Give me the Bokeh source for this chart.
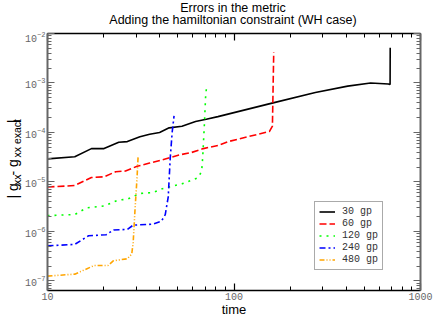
from bokeh.plotting import figure
from bokeh.layouts import row, column
from bokeh.models import (LogAxis, FixedTicker, Legend, LegendItem, Range1d,
                          CustomJSTickFormatter)
from bokeh.core.properties import value
from bokeh.embed import file_html
from bokeh.resources import INLINE

# ---------------- data ----------------
title_lines = ["Errors in the metric", "Adding the hamiltonian constraint (WH case)"]
x_label = "time"

t_30 = [10, 14.0, 17.2, 20.1, 24.1, 26.8, 31.3, 35.3, 39.9, 44.9, 52.6, 62.2, 71.0,
        82.0, 162, 273, 407, 540, 673, 687, 688]
e_30 = [2.92e-5, 3.24e-5, 4.72e-5, 4.72e-5, 6.34e-5, 6.54e-5, 8.18e-5, 9.22e-5, 1.0e-4,
        1.24e-4, 1.34e-4, 1.67e-4, 1.85e-4, 2.09e-4, 3.96e-4, 6.40e-4, 8.63e-4, 1.0e-3,
        9.57e-4, 9.27e-4, 5.16e-3]

t_60 = [10, 14.0, 17.2, 20.1, 23.2, 26.2, 30.2, 35.3, 41.3, 50.7, 59.3, 68.5, 82.0,
        92.5, 155, 160.7, 163.3]
e_60 = [7.88e-6, 8.47e-6, 1.23e-5, 1.27e-5, 1.61e-5, 1.66e-5, 2.07e-5, 2.41e-5, 2.80e-5,
        3.50e-5, 3.95e-5, 4.72e-5, 5.47e-5, 6.5e-5, 1.05e-4, 1.34e-4, 4.18e-3]

t_120 = [10, 14.0, 16.2, 20.1, 23.8, 26.8, 31.3, 36.6, 41.3, 52.6, 64.5, 67.1, 67.9,
         69.3, 70.4, 71.3]
e_120 = [2.09e-6, 2.19e-6, 2.99e-6, 3.27e-6, 4.28e-6, 4.47e-6, 5.85e-6, 6.1e-6, 7.31e-6,
         9.15e-6, 1.23e-5, 1.66e-5, 3.02e-5, 1.34e-4, 5.12e-4, 8.63e-4]

t_240 = [10, 14.0, 16.6, 20.6, 22.6, 26.8, 28.8, 36.6, 40.8, 42.8, 44.4, 45.5, 46.6, 47.7]
e_240 = [5.12e-7, 5.47e-7, 8.18e-7, 8.55e-7, 1.07e-6, 1.10e-6, 1.34e-6, 1.40e-6, 1.60e-6,
         2.19e-6, 5.0e-6, 3.0e-5, 1.0e-4, 2.16e-4]

t_480 = [10, 14.0, 17.8, 21.1, 22.6, 26.8, 28.3, 28.8, 29.5, 30.2, 30.6]
e_480 = [1.25e-7, 1.37e-7, 2.05e-7, 2.05e-7, 2.56e-7, 2.80e-7, 3.5e-7, 6.0e-7, 3.0e-6,
         1.2e-5, 3.2e-5]

labels = ["30 gp", "60 gp", "120 gp", "240 gp", "480 gp"]
colors = ["#000000", "#ff0000", "#00ff00", "#0000ff", "#ffa500"]
dashes = ["solid", "7 3", "2 5", "6 3 2 3", "5 2 1 2 1 2"]
times = [t_30, t_60, t_120, t_240, t_480]
errors = [e_30, e_60, e_120, e_240, e_480]

x_major = [10, 100, 1000]
x_minor = [m * 10 ** k for k in (1, 2) for m in range(2, 10)]
y_major = [1e-7, 1e-6, 1e-5, 1e-4, 1e-3, 1e-2]
y_minor = [m * 10.0 ** k for k in range(-8, -2) for m in range(2, 10)]

# y-axis label pieces (normal text and subscripts)
ylabel_parts = ["| g", "xx", " - g", "xx exact", " |"]
ylabel_sizes = ["14px", "10.5px", "14px", "10.5px", "14px"]

# ---------------- layout constants (pixels) ----------------
W, H = 433, 319
TOP_H = 31          # title strip
LAB_W = 22          # y-label strip
MAIN_H = H - TOP_H
FRAME_L, FRAME_R = 45, 420

def strip(width, height):
    f = figure(width=width, height=height, x_range=Range1d(0, width),
               y_range=Range1d(0, height), output_backend="svg",
               toolbar_location=None, x_axis_location=None, y_axis_location=None,
               min_border=0)
    f.outline_line_color = None
    f.grid.visible = False
    f.border_fill_color = "white"
    f.background_fill_color = "white"
    return f

# ---------------- title strip ----------------
ts = strip(W, TOP_H)
ts.text(x=[(FRAME_L + FRAME_R) / 2] * 2, y=[TOP_H - 7, TOP_H - 19], text=title_lines,
        text_align="center", text_baseline="middle",
        text_font=value("Liberation Sans"), text_font_size="12.5px",
        text_color="#000000")

# ---------------- main figure ----------------
p = figure(width=W - LAB_W, height=MAIN_H, x_axis_type="log", y_axis_type="log",
           x_range=(10, 1000), y_range=(6.4e-8, 1e-2),
           output_backend="svg", toolbar_location=None,
           min_border_left=FRAME_L - LAB_W, min_border_right=W - FRAME_R,
           min_border_top=2, min_border_bottom=27)
p.outline_line_color = None
p.grid.visible = False
p.background_fill_color = "white"
p.border_fill_color = "white"

renderers = []
for t, e, c, d in zip(times, errors, colors, dashes):
    r = p.line(t, e, line_color=c, line_width=1.6, line_dash=d)
    renderers.append(r)

xt = FixedTicker(ticks=x_major, minor_ticks=x_minor)
yt = FixedTicker(ticks=y_major, minor_ticks=y_minor)

def style_axis(ax, color, width):
    ax.major_tick_in = 7
    ax.major_tick_out = 0
    ax.minor_tick_in = 4
    ax.minor_tick_out = 0
    ax.axis_line_color = color
    ax.axis_line_width = width
    ax.major_tick_line_color = color
    ax.minor_tick_line_color = color
    ax.major_tick_line_width = 1.2
    ax.minor_tick_line_width = 1
    ax.major_label_text_font = "Liberation Mono"
    ax.major_label_text_font_size = "10px"
    ax.major_label_text_color = "#666666"

xa = p.xaxis[0]
xa.ticker = xt
xa.formatter = CustomJSTickFormatter(code="return tick.toFixed(0);")
style_axis(xa, "#000000", 1.5)
xa.major_label_standoff = 2
xa.axis_label = x_label
xa.axis_label_text_font = "Liberation Sans"
xa.axis_label_text_font_style = "normal"
xa.axis_label_text_font_size = "13px"
xa.axis_label_text_color = "#000000"
xa.axis_label_standoff = -1

ya = p.yaxis[0]
ya.ticker = yt
style_axis(ya, "#666666", 2)
ya.major_label_standoff = 2

empty = CustomJSTickFormatter(code="return '';")
top = LogAxis(ticker=xt, formatter=empty)
style_axis(top, "#000000", 1.5)
top.major_label_standoff = 0
p.add_layout(top, "above")
right = LogAxis(ticker=yt, formatter=empty)
style_axis(right, "#666666", 2)
right.major_label_standoff = 0
p.add_layout(right, "right")

legend = Legend(items=[LegendItem(label=l, renderers=[r]) for l, r in zip(labels, renderers)],
                location=(267, 20))
legend.label_text_font = "Liberation Mono"
legend.label_text_font_size = "10px"
legend.label_text_color = "#333333"
legend.glyph_width = 16
legend.glyph_height = 11
legend.label_height = 11
legend.label_standoff = 7
legend.padding = 4
legend.spacing = 1
legend.margin = 0
legend.border_line_color = "#555555"
legend.border_line_width = 1.5
legend.background_fill_color = "white"
legend.background_fill_alpha = 1
p.add_layout(legend)

# ---------------- y-label strip (rotated text with subscripts) ----------------
q = strip(LAB_W, MAIN_H)
piece_len = [15.3, 10.5, 20.2, 38.5, 7.5]
piece_x = [12.5, 16.0, 12.5, 16.0, 12.5]
acc = (H - 170) - sum(piece_len) / 2
for txt, sz, xx, ln in zip(ylabel_parts, ylabel_sizes, piece_x, piece_len):
    q.text(x=[xx], y=[acc], text=[txt], angle=1.5707963, text_align="left",
           text_baseline="alphabetic", text_font=value("Liberation Sans"),
           text_font_size=sz, text_color="#000000")
    acc += ln

layout = column(ts, row(q, p, spacing=0), spacing=0)
open("out.html", "w").write(file_html(layout, INLINE))
